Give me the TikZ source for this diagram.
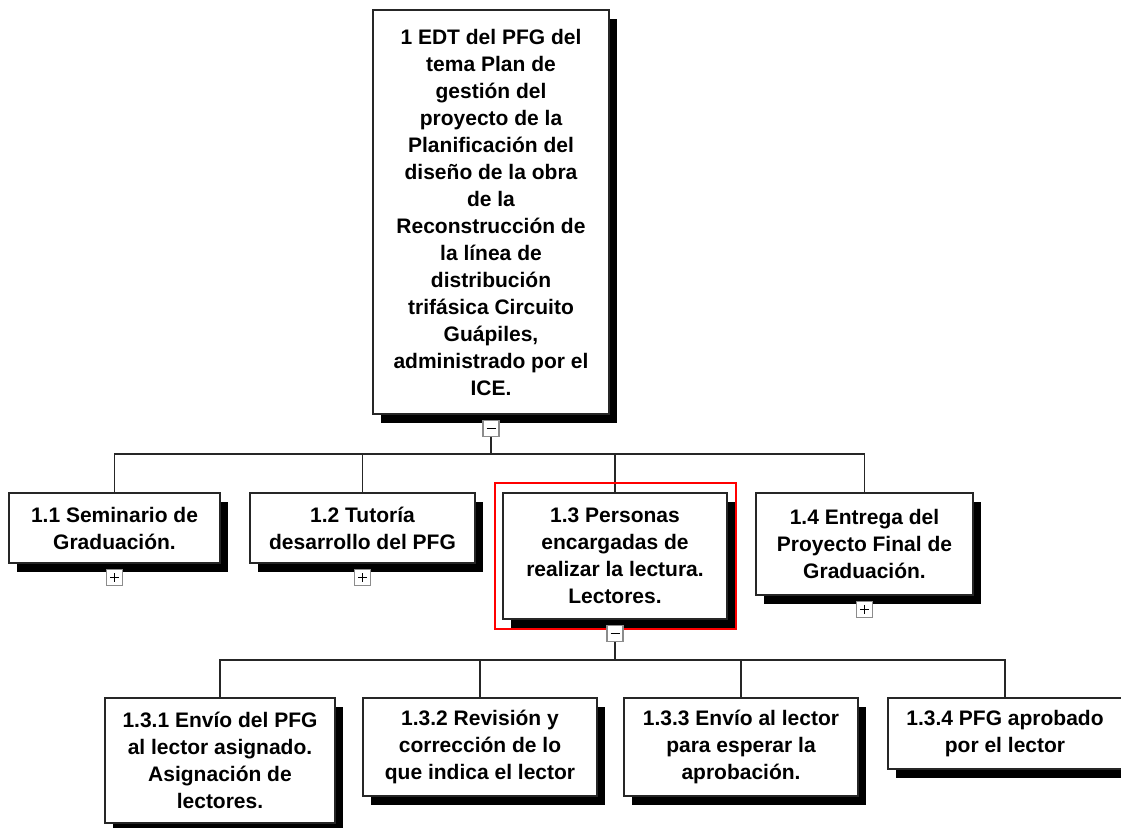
\documentclass[tikz,border=0pt]{standalone}
\usepackage{fontspec}
\setmainfont{Liberation Sans}
\usetikzlibrary{shadows}
\begin{document}
\begin{tikzpicture}[x=1pt,y=-1pt,
  wbs/.style={draw=black!85, line width=1.6pt, fill=white, inner sep=0pt,
    align=center, font=\bfseries\fontsize{21}{27}\selectfont,
    general shadow={fill=black, shadow xshift=8pt, shadow yshift=-9pt}},
  conn/.style={draw=black!85, line width=1.6pt},
  expbox/.style={draw=black!45, line width=1.2pt, fill=white, minimum size=16pt,
    inner sep=0pt, anchor=north, yshift=-5pt},
  collapse/.style={expbox, path picture={
    \draw[line width=1.8pt, black]
      ([xshift=-4.5pt]path picture bounding box.center) --
      ([xshift=4.5pt]path picture bounding box.center);}},
  expand/.style={expbox, path picture={
    \draw[line width=1.8pt, black]
      ([xshift=-4.5pt]path picture bounding box.center) --
      ([xshift=4.5pt]path picture bounding box.center)
      ([yshift=-4.5pt]path picture bounding box.center) --
      ([yshift=4.5pt]path picture bounding box.center);}},
  selected/.style={draw=red, line width=1.7pt}
]
\useasboundingbox (0,0) rectangle (1121,827);

% bus lines of the two levels
\coordinate (busA) at (491,454);
\coordinate (busB) at (615,660);

% root
\node[wbs, minimum width=236pt, minimum height=404pt] (root) at (491,212)
  {1 EDT del PFG del\\tema Plan de\\gestión del\\proyecto de la\\Planificación del\\diseño de la obra\\de la\\Reconstrucción de\\la línea de\\distribución\\trifásica Circuito\\Guápiles,\\administrado por el\\ICE.};

% level 1
\node[wbs, minimum width=211pt, minimum height=70pt] (n11) at (114.5,528)
  {1.1 Seminario de\\Graduación.};
\node[wbs, minimum width=225pt, minimum height=70pt] (n12) at (362.5,528)
  {1.2 Tutoría\\desarrollo del PFG};
\node[wbs, minimum width=224pt, minimum height=126pt] (n13) at (615,556)
  {1.3 Personas\\encargadas de\\realizar la lectura.\\Lectores.};
\node[wbs, minimum width=217pt, minimum height=102pt] (n14) at (864.5,544)
  {1.4 Entrega del\\Proyecto Final de\\Graduación.};

% level 2
\node[wbs, minimum width=230pt, minimum height=125pt] (n131) at (220,760.5)
  {1.3.1 Envío del PFG\\al lector asignado.\\Asignación de\\lectores.};
\node[wbs, minimum width=234pt, minimum height=98pt] (n132) at (480,747)
  {1.3.2 Revisión y\\corrección de lo\\que indica el lector};
\node[wbs, minimum width=234pt, minimum height=98pt] (n133) at (741,747)
  {1.3.3 Envío al lector\\para esperar la\\aprobación.};
\node[wbs, minimum width=234pt, minimum height=71pt] (n134) at (1005,733.5)
  {1.3.4 PFG aprobado\\por el lector};

% expand / collapse buttons
\node[collapse] (x0) at (root.south) {};
\node[expand] (x11) at (n11.south) {};
\node[expand] (x12) at (n12.south) {};
\node[collapse] (x13) at (n13.south) {};
\node[expand] (x14) at (n14.south) {};

% connectors
\foreach \c in {n11,n12,n13,n14}
  \draw[conn] (x0.south) -- (x0.south |- busA) -| (\c.north);
\foreach \c in {n131,n132,n133,n134}
  \draw[conn] (x13.south) -- (x13.south |- busB) -| (\c.north);

% selection frame round 1.3, under its button
\draw[selected] ([xshift=-7pt,yshift=9pt]n13.north west)
  rectangle ([xshift=8pt,yshift=-9pt]n13.south east);
\node[collapse] at (n13.south) {};
\end{tikzpicture}
\end{document}
